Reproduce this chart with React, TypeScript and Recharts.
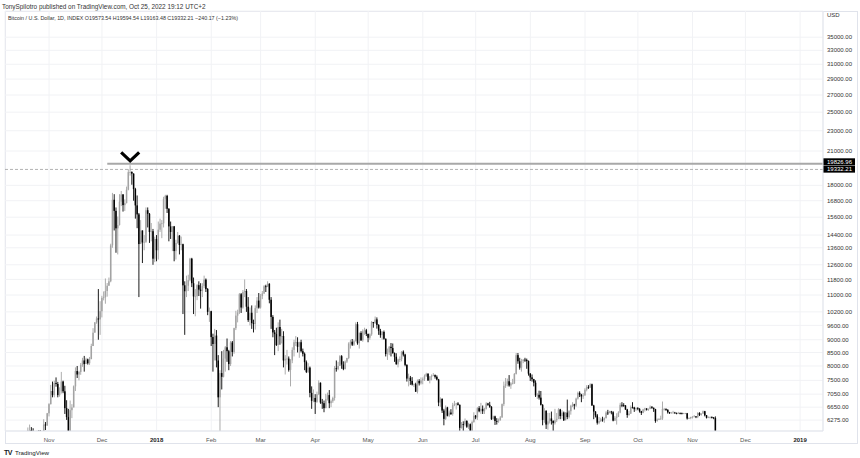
import { ComposedChart, Bar, XAxis, YAxis, CartesianGrid, ReferenceLine, ReferenceDot } from 'recharts';

// day index 0 = 2017-10-01, first candle = 2017-10-19
const FIRST_DAY = 18;
const FIRST_OPEN = 5580;

// daily closes, one row per month (Oct 19 2017 .. Nov 14 2018)
const closes = [
  5700, 5990, 6000, 5930, 5530, 5750, 5900, 5780, 5750, 5730, 6150, 6130, 6470,
  6740, 7150, 7020, 7410, 7380, 7020, 7140, 7460, 7140, 6620, 6360, 5950, 6560, 6640, 7300, 7820, 7700, 7790, 8040, 8200, 8070, 8240, 8100, 8250, 8750, 9290, 9730, 9900, 9860, 10230,
  10860, 10890, 11200, 11470, 11700, 13750, 16870, 16050, 14840, 15060, 16730, 17280, 16470, 16620, 17650, 19100, 19110, 18970, 17700, 16450, 15800, 13830, 14700, 13930, 13970, 16100, 15840, 14600, 14650, 12950, 14150,
  13450, 14750, 15160, 15180, 16940, 17170, 16200, 14970, 14600, 14970, 13400, 13900, 14360, 13770, 13820, 11490, 11190, 11470, 11760, 12950, 11600, 10930, 10940, 11500, 11270, 11200, 11450, 11790, 11300, 10200, 10230,
  9110, 8830, 9170, 8200, 6950, 7750, 7620, 8270, 8700, 8550, 8070, 8890, 8520, 9480, 10030, 10170, 11040, 10400, 11150, 11200, 10440, 9830, 10160, 9700, 9660, 10370, 10730, 10400,
  10950, 11080, 11440, 11430, 11570, 10770, 9970, 9300, 9230, 8790, 9530, 9140, 9150, 8200, 8260, 8270, 7860, 8200, 8600, 8900, 8900, 8720, 8900, 8550, 8450, 8140, 7790, 7940, 7090, 6840, 6930,
  6810, 7050, 7420, 6790, 6770, 6620, 6900, 7020, 6770, 6830, 6930, 7920, 7890, 8000, 8360, 8050, 7890, 8160, 8290, 8850, 8920, 8800, 8940, 9650, 8860, 9280, 8980, 9350, 9390, 9240,
  9080, 9220, 9740, 9700, 9860, 9620, 9370, 9190, 9320, 9040, 8440, 8500, 8720, 8670, 8480, 8340, 8060, 8240, 8250, 8530, 8420, 8040, 7560, 7590, 7480, 7360, 7370, 7130, 7480, 7400, 7500,
  7540, 7640, 7720, 7500, 7630, 7650, 7680, 7620, 7530, 6790, 6900, 6550, 6310, 6640, 6400, 6490, 6450, 6710, 6740, 6760, 6720, 6060, 6160, 6150, 6250, 6090, 6160, 5900, 6220, 6400,
  6350, 6620, 6530, 6600, 6530, 6600, 6760, 6720, 6660, 6300, 6380, 6250, 6240, 6270, 6350, 6740, 7320, 7380, 7470, 7330, 7400, 7400, 7720, 8400, 8170, 7940, 8180, 8230, 8220, 8180, 7730,
  7600, 7540, 7420, 7010, 7030, 6940, 6720, 6280, 6540, 6150, 6240, 6320, 6250, 6190, 6270, 6310, 6580, 6390, 6490, 6270, 6490, 6360, 6530, 6690, 6730, 6700, 6910, 7090, 7030, 6980, 7010,
  7190, 7270, 7260, 7370, 6700, 6520, 6410, 6200, 6250, 6290, 6280, 6330, 6490, 6480, 6520, 6500, 6260, 6340, 6370, 6490, 6720, 6710, 6700, 6580, 6420, 6460, 6650, 6640, 6590, 6620,
  6600, 6530, 6480, 6580, 6610, 6570, 6600, 6660, 6630, 6590, 6250, 6290, 6300, 6320, 6600, 6600, 6570, 6500, 6480, 6490, 6490, 6480, 6470, 6480, 6470, 6460, 6470, 6470, 6320, 6330, 6360,
  6370, 6380, 6360, 6480, 6420, 6460, 6530, 6410, 6340, 6360, 6360, 6350, 6330, 5740,
];

const highs = [
  5740, 6070, 6150, 6080, 6050, 5860, 5980, 5990, 6000, 5850, 6300, 6220, 6480,
  6770, 7350, 7460, 7490, 7600, 7450, 7270, 7790, 7490, 7320, 6860, 6600, 6850, 6740, 7330, 7950, 8000, 7830, 8110, 8300, 8370, 8300, 8270, 8330, 8840, 9480, 9740, 9990, 11300, 10700,
  10960, 11180, 11850, 11610, 11900, 13850, 17400, 17300, 16300, 15650, 17300, 17550, 17300, 16900, 17900, 19350, 19700, 19170, 19000, 17800, 17200, 15900, 15400, 14700, 14400, 16300, 16300, 15900, 15200, 14800, 14300,
  14400, 15300, 15500, 15400, 17100, 17250, 17250, 16250, 15300, 14990, 15000, 14100, 14600, 14400, 14300, 13850, 11700, 12000, 12050, 13000, 13000, 11900, 11300, 11550, 11700, 11600, 11600, 12000, 11850, 11350, 10400,
  10250, 9250, 9450, 9400, 8400, 7850, 8550, 8600, 8750, 9050, 8600, 8950, 8950, 9500, 10250, 10300, 11100, 11100, 11250, 11800, 11300, 10900, 10400, 10500, 9850, 10500, 10900, 11100,
  11050, 11200, 11500, 11520, 11700, 11600, 10900, 10050, 9400, 9500, 9730, 9850, 9450, 9350, 8400, 8600, 8350, 8250, 8700, 9000, 9150, 9100, 8920, 9000, 8650, 8500, 8200, 8100, 7980, 7300, 7200,
  7050, 7130, 7500, 7430, 6900, 6850, 7060, 7100, 7180, 6880, 6970, 8000, 8200, 8150, 8400, 8400, 8170, 8200, 8300, 8900, 9000, 9030, 9000, 9730, 9750, 9300, 9350, 9430, 9500, 9450,
  9250, 9260, 9790, 9750, 9990, 9950, 9650, 9450, 9360, 9380, 9050, 8650, 8750, 8870, 8850, 8500, 8470, 8270, 8350, 8550, 8580, 8450, 8060, 7730, 7650, 7610, 7400, 7420, 7530, 7540, 7600,
  7600, 7700, 7760, 7750, 7650, 7700, 7750, 7700, 7670, 7550, 6950, 6920, 6600, 6700, 6660, 6550, 6590, 6780, 6840, 6780, 6800, 6730, 6220, 6240, 6320, 6270, 6200, 6180, 6260, 6500,
  6420, 6650, 6680, 6780, 6700, 6630, 6800, 6780, 6810, 6680, 6400, 6400, 6330, 6320, 6390, 6760, 7460, 7580, 7560, 7680, 7440, 7550, 7750, 8480, 8480, 8300, 8260, 8250, 8300, 8270, 8200,
  7750, 7700, 7550, 7500, 7080, 7160, 7150, 6740, 6620, 6560, 6480, 6480, 6520, 6270, 6600, 6480, 6620, 6600, 6560, 6520, 6500, 6880, 6560, 6720, 6800, 6750, 6940, 7130, 7140, 7060, 7080,
  7240, 7340, 7340, 7400, 7390, 6720, 6530, 6450, 6360, 6340, 6370, 6350, 6530, 6570, 6540, 6540, 6530, 6390, 6470, 6530, 6780, 6800, 6770, 6710, 6600, 6540, 6700, 6800, 6660, 6640,
  6650, 6620, 6540, 6600, 6630, 6620, 6610, 6700, 6680, 6640, 6600, 6320, 6330, 6400, 6820, 6620, 6610, 6590, 6510, 6510, 6540, 6510, 6490, 6510, 6490, 6490, 6480, 6480, 6480, 6350, 6370,
  6390, 6420, 6390, 6500, 6500, 6470, 6550, 6540, 6420, 6380, 6380, 6380, 6360, 6380,
];

const lows = [
  5500, 5630, 5900, 5700, 5450, 5460, 5600, 5760, 5700, 5650, 5700, 6000, 6110,
  6380, 6730, 6950, 6950, 7290, 6950, 6970, 7070, 7080, 6450, 6280, 5500, 5860, 6330, 6650, 7150, 7580, 7500, 7690, 7970, 7800, 8070, 8050, 8040, 8250, 8750, 9300, 9670, 9000, 9200,
  9950, 10740, 10580, 10920, 11470, 11650, 13600, 14700, 13300, 13200, 15030, 16400, 16000, 16050, 16600, 17600, 18800, 18050, 16800, 15500, 14850, 10900, 13900, 12700, 13450, 13900, 14900, 13900, 14000, 12600, 12750,
  12800, 12900, 14600, 14200, 14900, 16200, 15900, 14000, 14150, 13400, 12800, 12900, 13850, 13200, 13450, 10100, 9200, 10900, 11200, 11700, 11400, 10100, 10000, 10750, 10950, 10350, 10900, 11350, 11150, 10050, 9750,
  8750, 7800, 8200, 7950, 6650, 5950, 7200, 7600, 7800, 8150, 7850, 8000, 8350, 8450, 9400, 9730, 10100, 10150, 10350, 10900, 10200, 9750, 9600, 9450, 9300, 9420, 10150, 10350,
  10350, 10800, 11050, 11150, 11400, 10600, 9450, 9100, 8400, 8750, 8550, 8800, 8850, 7950, 7700, 8050, 7800, 7300, 8100, 8350, 8750, 8500, 8300, 8500, 8350, 7850, 7750, 7750, 6950, 6600, 6800,
  6450, 6780, 7020, 6750, 6600, 6500, 6620, 6850, 6620, 6650, 6780, 6850, 7800, 7850, 8000, 7900, 7850, 7880, 8110, 8250, 8650, 8750, 8750, 8930, 8800, 8650, 8950, 8920, 9200, 9150,
  8900, 9000, 9160, 9500, 9660, 9460, 9200, 9080, 9000, 9000, 8350, 8220, 8400, 8350, 8450, 8150, 8050, 7950, 8150, 8170, 8350, 7990, 7460, 7300, 7350, 7330, 7280, 7120, 7070, 7330, 7360,
  7370, 7480, 7620, 7480, 7400, 7500, 7640, 7560, 7500, 6680, 6660, 6480, 6130, 6280, 6380, 6360, 6420, 6400, 6680, 6580, 6700, 5930, 6040, 5790, 6100, 6060, 6030, 5880, 5820, 6200,
  6300, 6280, 6500, 6450, 6450, 6450, 6580, 6690, 6630, 6280, 6290, 6140, 6150, 6200, 6260, 6340, 6680, 7250, 7300, 7290, 7220, 7370, 7380, 7700, 8080, 7870, 7800, 8100, 8150, 7900, 7660,
  7480, 7460, 7300, 6960, 6900, 6880, 6700, 6130, 6200, 6030, 6010, 6180, 6150, 5880, 6150, 6220, 6300, 6300, 6310, 6250, 6270, 6300, 6320, 6430, 6650, 6580, 6660, 6880, 6960, 6800, 6900,
  7000, 7140, 7220, 7250, 6690, 6300, 6350, 6150, 6160, 6220, 6230, 6200, 6320, 6420, 6470, 6440, 6240, 6250, 6150, 6360, 6470, 6650, 6660, 6570, 6340, 6400, 6450, 6610, 6510, 6540,
  6560, 6490, 6420, 6470, 6520, 6550, 6540, 6590, 6600, 6510, 6200, 6230, 6280, 6280, 6280, 6550, 6540, 6460, 6450, 6460, 6470, 6460, 6440, 6460, 6440, 6440, 6450, 6450, 6290, 6310, 6300,
  6320, 6360, 6330, 6330, 6390, 6400, 6450, 6380, 6320, 6330, 6320, 6320, 6300, 5550,
];

// 24h market: each day opens where the previous one closed
const opens = closes.map((c, i) => (i === 0 ? FIRST_OPEN : closes[i - 1]));

const monthTicks = [31, 61, 92, 123, 151, 182, 212, 243, 273, 304, 335, 365, 396, 426, 457];
const monthLabels = ['Nov', 'Dec', '2018', 'Feb', 'Mar', 'Apr', 'May', 'Jun', 'Jul', 'Aug', 'Sep', 'Oct', 'Nov', 'Dec', '2019'];

const priceTicks = [
  6275, 6650, 7050, 7500, 8000, 8500, 9000, 9600, 10200, 11000, 11800, 12600, 13600, 14400,
  15600, 16800, 18000, 21000, 23000, 25000, 27000, 29000, 31000, 33000, 35000,
];

const ATH_LEVEL = 19826.96;
const LAST_PRICE = 19332.21;
const ATH_LINE_FROM = 64;
const PEAK_DAY = 77;

const data = closes.map((c, i) => ({
  t: FIRST_DAY + i,
  open: opens[i],
  high: highs[i],
  low: lows[i],
  close: c,
  range: [lows[i], highs[i]],
}));

const FONT = '"Liberation Sans", Arial, sans-serif';
const X_MIN = 6;
const X_MAX = 470;

function Candle(props: any) {
  const { x, y, width, height, payload } = props;
  if (!payload || y == null || height == null) return null;
  const { open, close, high, low } = payload;
  const cx = x + width / 2;
  const lh = Math.log(high);
  const ll = Math.log(low);
  const yAt = (v: number) => (lh === ll ? y : y + ((lh - Math.log(v)) / (lh - ll)) * height);
  const up = close >= open;
  const top = yAt(Math.max(open, close));
  const bot = yAt(Math.min(open, close));
  const color = up ? '#a3a3a3' : '#000000';
  const bw = 1.5;
  return (
    <g>
      <line x1={cx} x2={cx} y1={y} y2={y + height} stroke={color} strokeWidth={0.9} />
      <rect x={cx - bw / 2} y={top} width={bw} height={Math.max(0.8, bot - top)} fill={color} />
    </g>
  );
}

function MonthTick(props: any) {
  const { x, y, payload } = props;
  const label = monthLabels[monthTicks.indexOf(payload.value)] ?? '';
  const isYear = /^\d{4}$/.test(label);
  return (
    <text x={x} y={y + 8.5} textAnchor="middle" fontSize={6} fontWeight={isYear ? 700 : 400} fill={isYear ? '#222' : '#555'} fontFamily={FONT}>
      {label}
    </text>
  );
}

function PriceTag({ viewBox, value, dy }: any) {
  if (!viewBox) return null;
  const right = viewBox.x + viewBox.width;
  const y = viewBox.y;
  return (
    <g>
      <rect x={right} y={y + dy} width={32} height={7} fill="#000" />
      <text x={right + 4} y={y + dy + 5.6} fontSize={6} fill="#fff" fontFamily={FONT}>
        {value.toFixed(2)}
      </text>
    </g>
  );
}

function Chevron(props: any) {
  const { cx, cy } = props;
  if (cx == null || cy == null) return null;
  return (
    <polyline
      points={`${cx - 9},${cy - 11.5} ${cx},${cy - 3} ${cx + 9},${cy - 11.5}`}
      fill="none"
      stroke="#000"
      strokeWidth={3.2}
      strokeLinejoin="miter"
    />
  );
}

export default function App() {
  return (
    <div style={{ position: 'absolute', left: 0, top: 0, width: 860, height: 458, background: '#fff', fontFamily: FONT }}>
      <svg width={860} height={458} style={{ position: 'absolute', left: 0, top: 0 }}>
        <text x={2} y={8.5} fontSize={6.4} fill="#333">TonySpilotro published on TradingView.com, Oct 25, 2022 19:12 UTC+2</text>
        <rect x={5.5} y={11.5} width={852} height={432} fill="none" stroke="#e0e3eb" />
        <line x1={5} x2={858} y1={443.5} y2={443.5} stroke="#e0e3eb" />
        <text x={4} y={455} fontSize={7} fontWeight={900} fill="#131722" letterSpacing={-0.6}>TV</text>
        <text x={15} y={455} fontSize={6.2} fill="#131722">TradingView</text>
      </svg>
      <div style={{ position: 'absolute', left: 0, top: 0 }}>
        <ComposedChart width={860} height={458} data={data} margin={{ top: 11, right: 2, left: 5, bottom: 15 }}>
          <CartesianGrid stroke="#f1f2f5" strokeWidth={1} />
          <XAxis
            dataKey="t"
            type="number"
            domain={[X_MIN, X_MAX]}
            ticks={monthTicks}
            tick={<MonthTick />}
            tickLine={false}
            tickSize={0}
            axisLine={{ stroke: '#e0e3eb' }}
            height={12}
            interval={0}
          />
          <YAxis
            orientation="right"
            scale="log"
            domain={[5975, 39370]}
            allowDataOverflow
            ticks={priceTicks}
            tickFormatter={(v: number) => v.toFixed(2)}
            tick={{ fontSize: 6, fill: '#333', fontFamily: FONT }}
            tickLine={false}
            tickSize={0}
            tickMargin={4}
            axisLine={{ stroke: '#e0e3eb' }}
            width={35}
            interval={0}
          />
          <Bar dataKey="range" barSize={2} shape={<Candle />} isAnimationActive={false} />
          <ReferenceLine
            y={LAST_PRICE}
            stroke="#9e9e9e"
            strokeDasharray="3 2"
            strokeWidth={0.8}
            label={<PriceTag value={LAST_PRICE} dy={-3.8} />}
          />
          <ReferenceLine
            segment={[{ x: ATH_LINE_FROM, y: ATH_LEVEL }, { x: X_MAX, y: ATH_LEVEL }]}
            stroke="#a8a8a8"
            strokeWidth={2}
            label={<PriceTag value={ATH_LEVEL} dy={-5.5} />}
          />
          <ReferenceDot x={PEAK_DAY} y={ATH_LEVEL} r={0} shape={<Chevron />} />
        </ComposedChart>
      </div>
      <svg width={860} height={30} style={{ position: 'absolute', left: 0, top: 0, pointerEvents: 'none' }}>
        <text x={8} y={19.5} fontSize={5.4} fill="#333" textLength={230} lengthAdjust="spacingAndGlyphs">
          Bitcoin / U.S. Dollar, 1D, INDEX{'  '}O19573.54{'  '}H19594.54{'  '}L19163.48{'  '}C19332.21{'  '}−240.17 (−1.23%)
        </text>
        <text x={827} y={17} fontSize={6} fill="#333">USD</text>
      </svg>
    </div>
  );
}
